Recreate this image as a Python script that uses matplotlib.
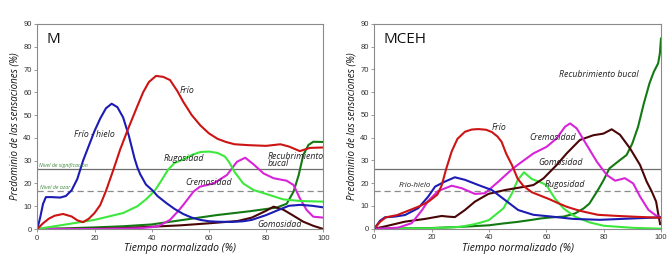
import matplotlib
matplotlib.use("Agg")
import matplotlib.pyplot as plt

# ---------------- Panel M ----------------
m_friohielo_x = [0, 1, 2, 3, 5, 8, 10, 12, 14, 16, 18, 20, 22, 24, 26, 28, 30, 32, 34, 35, 36, 38, 40.5, 42, 45, 48, 51, 54, 57, 60, 63, 68, 72, 75, 80, 84, 88, 92, 96, 100]
m_friohielo_y = [0, 5, 11, 14, 14, 13.8, 14.5, 17, 22, 30, 36.5, 43, 48.5, 53, 55, 53.5, 49, 41, 31, 27, 24, 19.5, 16.7, 14.5, 11.5, 8.8, 6.6, 5, 4, 3.4, 3.2, 3.1, 3.4, 4, 6.1, 8.2, 10.2, 10.6, 10.2, 9.5]

m_frio_x = [0, 2, 4, 6, 9, 12, 14, 16, 18, 20, 22, 24, 26.6, 29, 31.6, 35, 37, 39, 41.5, 44, 46.4, 49, 51, 54, 57, 60, 63, 66, 69, 74, 80, 85, 88, 91.8, 95.3, 100]
m_frio_y = [0, 2.5, 4.5, 5.8, 6.6, 5.5, 3.8, 3, 4.5, 7, 10.5, 16.7, 26, 35, 43.5, 54, 60, 64.5, 67.2, 66.8, 65.4, 60.5, 55.9, 50, 45.5, 42, 39.6, 38.2, 37.2, 36.8, 36.5, 37.2, 36.2, 34.2, 35.6, 35.8]

m_rugosidad_x = [0, 5, 10, 15, 20, 25, 30, 35, 38, 41, 43.5, 45.7, 48, 51, 54, 57, 60, 63, 65.6, 67, 69, 72, 75.6, 80, 86, 92, 100]
m_rugosidad_y = [0, 1, 2, 3, 4, 5.5, 7, 10, 13, 16.7, 21.5, 26, 29, 30.5, 32.5, 33.8, 34, 33.4, 31.8, 29.5, 25, 20, 17.1, 15.4, 13, 12.3, 12]

m_cremosidad_x = [0, 20, 35, 40, 42.4, 46.4, 49, 51, 54.6, 56.9, 61.6, 66.3, 69.8, 72.7, 75.6, 79.1, 82.6, 87.2, 89.6, 91.8, 94.2, 96.5, 100]
m_cremosidad_y = [0, 0, 0.3, 0.8, 1.3, 4, 7.5, 10.5, 16.4, 18.6, 20, 23.7, 29.5, 31.3, 28.4, 24.4, 22.3, 21.2, 19.3, 13.5, 8.3, 5.4, 5]

m_gomosidad_x = [0, 20, 30, 40, 50, 60, 70, 75, 80, 82.6, 86, 89.6, 93, 96.5, 100]
m_gomosidad_y = [0, 0.1, 0.4, 1, 1.6, 2.5, 3.5, 5, 8, 9.8, 8.5, 5.8, 3.2, 1.4, 0]

m_recubrimiento_x = [0, 10, 20, 30, 40, 51, 62.7, 74.3, 83.7, 87.2, 89.6, 91.4, 93, 94.8, 96.5, 100]
m_recubrimiento_y = [0, 0.3, 0.7, 1.2, 2, 4, 6.1, 7.8, 9.4, 11.1, 16.4, 23.7, 32.5, 36.9, 38.3, 38.2]

# ---------------- Panel MCEH ----------------
c_frio_x = [0, 2, 4, 8, 12, 16, 19, 22, 23.5, 25, 27, 29, 31.6, 34, 36.3, 39, 41, 43, 44.4, 46, 48, 50, 52, 55, 58, 61, 64, 67, 70, 73, 78, 85, 92, 100]
c_frio_y = [0, 3, 5, 6, 8, 10, 12, 15, 19, 26, 34, 39.5, 42.6, 43.6, 43.8, 43.5, 42.5, 40.5, 38.2, 33, 28, 22, 18.8, 16, 14.5, 13, 11.3, 9.7, 8.5, 7.5, 6.1, 5.6, 5.2, 4.8]

c_friohielo_x = [0, 2, 3.7, 7, 10.7, 15.3, 18.8, 21.2, 24.6, 28.1, 31.6, 36.3, 41, 45.6, 50.2, 55.5, 61.3, 69.4, 78.7, 88, 100]
c_friohielo_y = [0, 3.5, 5, 5.3, 6, 9, 14.1, 18.5, 20.7, 22.6, 21.5, 19.2, 17, 12.6, 8.2, 6.1, 5.4, 4.3, 3.9, 4.4, 5]

c_cremosidad_x = [0, 5, 8.4, 13, 16.5, 18.8, 22.3, 27, 30.5, 35.1, 38.6, 43.3, 47.9, 50.8, 55.5, 60.1, 63.6, 66.5, 68.3, 70.6, 74.1, 77.6, 81.1, 84, 87.4, 90.3, 92.7, 95.6, 97.9, 100]
c_cremosidad_y = [0, 0.2, 0.5, 2.4, 7.9, 12.2, 16.6, 18.9, 17.8, 15.3, 15.6, 20.7, 26, 28.8, 33.1, 36, 39.7, 44.8, 46.3, 44.1, 36.8, 29.5, 23.6, 21.1, 22.2, 19.9, 14.1, 8.3, 6.1, 4.8]

c_gomosidad_x = [0, 3.7, 10.7, 17.7, 23.5, 25.8, 28.1, 31.6, 35.1, 39.8, 45.6, 52.6, 55.5, 59, 63.6, 67.1, 71.7, 76.4, 79.9, 82.8, 85.7, 89.2, 92.7, 95, 96.8, 98.3, 99.1, 99.7]
c_gomosidad_y = [0, 1, 3.1, 4.3, 5.6, 5.3, 5.1, 8.2, 11.9, 15.3, 17, 18.5, 19.2, 22.1, 28, 33.1, 39, 41.1, 41.8, 43.7, 41.3, 35.3, 28, 20.7, 16.3, 11.9, 6, 2]

c_rugosidad_x = [0, 20, 30, 35, 38, 40, 45, 48, 50, 52.2, 55, 58, 60, 63, 66, 70, 75, 80, 90, 100]
c_rugosidad_y = [0, 0.2, 0.8, 2, 3, 3.8, 8.9, 15.5, 21.4, 24.8, 21.8, 20.4, 19.2, 13.3, 8.9, 5.3, 2.8, 1.3, 0.4, 0]

c_recubrimiento_x = [0, 20, 30, 40, 45, 50, 55, 58, 62, 66, 70, 73, 75, 78, 80, 82, 85, 88, 90, 92, 94, 96, 97.5, 99, 99.6, 100]
c_recubrimiento_y = [0, 0.3, 0.8, 1.5, 2.3, 3, 3.9, 4.5, 5, 5.3, 6.7, 8.9, 11, 17, 21.4, 26.5, 29.5, 32.4, 37.5, 44.8, 55, 64, 69, 72.7, 77, 83.6]

sig_level = 26.2
azar_level = 16.7

x_ticks = [0, 20, 40, 60, 80, 100]
y_ticks = [0, 10, 20, 30, 40, 50, 60, 70, 80, 90]

C_BLUE = "#1c1cb4"
C_RED = "#cc1414"
C_LGREEN = "#3de83d"
C_MAG = "#d824d8"
C_BROWN = "#4a0606"
C_DGREEN = "#137a13"

LBL_FONT = ["Open Sans", "DejaVu Sans"]
TICK_FONT = ["Liberation Sans", "DejaVu Sans"]

fig = plt.figure(figsize=(6.71, 2.66), dpi=100)
ax1 = fig.add_axes([37.3 / 671, 37 / 266, 286 / 671, 205 / 266])
ax2 = fig.add_axes([374.3 / 671, 37.3 / 266, 286.7 / 671, 204.7 / 266])

LW = 1.5


def style(ax, title):
    ax.set_xlim(0, 100)
    ax.set_ylim(0, 90)
    ax.set_xticks(x_ticks)
    ax.set_yticks(y_ticks)
    for s in ax.spines.values():
        s.set_color("#8a8a8a")
        s.set_linewidth(0.8)
    ax.tick_params(axis="both", length=2, width=0.6, color="#8a8a8a", pad=2,
                   labelsize=5.5, labelcolor="#333333")
    for lab in ax.get_xticklabels() + ax.get_yticklabels():
        lab.set_family(TICK_FONT)
    ax.set_xlabel("Tiempo normalizado (%)", fontsize=7.5, style="italic",
                  family=LBL_FONT, color="#111111", labelpad=1)
    ax.set_ylabel("Predominio de las sensaciones (%)", fontsize=7, style="italic",
                  family=LBL_FONT, color="#111111", labelpad=2)
    ax.axhline(sig_level, color="#6e6e6e", lw=0.9, zorder=1)
    ax.axhline(azar_level, color="#8c8c8c", lw=0.9, ls=(0, (5, 3)), zorder=1)
    ax.text(3.3, 83, title, fontsize=11, family=LBL_FONT, color="#111111",
            ha="left", va="center")


def lab(ax, x, y, s, size=6.3, ha="left", **kw):
    ax.text(x, y, s, fontsize=size, style="italic", family=LBL_FONT,
            color="#222222", ha=ha, va="center", **kw)


# Panel M
style(ax1, "M")
ax1.plot(m_recubrimiento_x, m_recubrimiento_y, color=C_DGREEN, lw=LW)
ax1.plot(m_gomosidad_x, m_gomosidad_y, color=C_BROWN, lw=LW)
ax1.plot(m_cremosidad_x, m_cremosidad_y, color=C_MAG, lw=LW)
ax1.plot(m_rugosidad_x, m_rugosidad_y, color=C_LGREEN, lw=LW)
ax1.plot(m_friohielo_x, m_friohielo_y, color=C_BLUE, lw=LW)
ax1.plot(m_frio_x, m_frio_y, color=C_RED, lw=LW)
lab(ax1, 49.9, 60.6, "Frío")
lab(ax1, 12.8, 41.7, "Frío - hielo")
lab(ax1, 44, 30.9, "Rugosidad")
lab(ax1, 51.6, 20.6, "Cremosidad")
lab(ax1, 80.5, 30.4, "Recubrimiento\nbucal", linespacing=0.75)
lab(ax1, 77, 2.0, "Gomosidad")
ax1.text(0.6, 27.7, "Nivel de significación", fontsize=3.8, style="italic",
         family=LBL_FONT, color="#3a8a3a", ha="left", va="center")
ax1.text(0.9, 18.3, "Nivel de azar", fontsize=3.8, style="italic",
         family=LBL_FONT, color="#3a8a3a", ha="left", va="center")

# Panel MCEH
style(ax2, "MCEH")
ax2.plot(c_recubrimiento_x, c_recubrimiento_y, color=C_DGREEN, lw=LW)
ax2.plot(c_rugosidad_x, c_rugosidad_y, color=C_LGREEN, lw=LW)
ax2.plot(c_gomosidad_x, c_gomosidad_y, color=C_BROWN, lw=LW)
ax2.plot(c_cremosidad_x, c_cremosidad_y, color=C_MAG, lw=LW)
ax2.plot(c_friohielo_x, c_friohielo_y, color=C_BLUE, lw=LW)
ax2.plot(c_frio_x, c_frio_y, color=C_RED, lw=LW)
lab(ax2, 40.9, 44.7, "Frío")
lab(ax2, 54.1, 40.3, "Cremosidad")
lab(ax2, 57.2, 29.0, "Gomosidad")
lab(ax2, 59.5, 19.6, "Rugosidad")
lab(ax2, 8.6, 19.0, "Frío-hielo", size=5.6)
lab(ax2, 64.5, 67.8, "Recubrimiento bucal")

fig.savefig("out.png", dpi=100)
